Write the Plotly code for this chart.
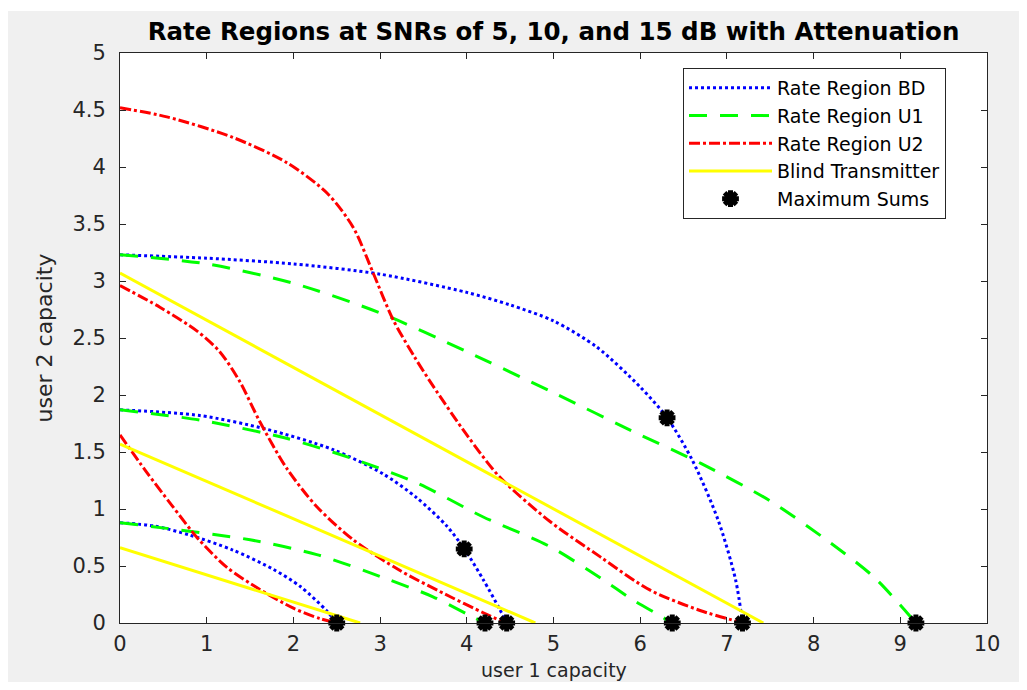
import plotly.graph_objects as go

# ---------------- data ----------------
# SNR = 5 dB
bd5_x = [0, 0.4, 0.81, 1.3, 1.77, 2.08, 2.38, 2.5]
bd5_y = [0.88, 0.85, 0.77, 0.64, 0.47, 0.32, 0.11, 0]
u1_5_x = [0, 0.54, 1.5, 2.27, 3.03, 3.61, 4.0, 4.21]
u1_5_y = [0.88, 0.83, 0.73, 0.60, 0.40, 0.23, 0.08, 0]
u2_5_x = [0, 0.3, 0.6, 0.9, 1.23, 1.6, 2.0, 2.3, 2.5]
u2_5_y = [1.65, 1.33, 1.03, 0.74, 0.49, 0.30, 0.13, 0.04, 0]
blind5_x = [0, 2.77]
blind5_y = [0.66, 0]

# SNR = 10 dB
bd10_x = [0, 0.92, 1.69, 2.46, 3.03, 3.42, 3.77, 3.98, 4.19, 4.38, 4.46]
bd10_y = [1.87, 1.82, 1.70, 1.52, 1.31, 1.10, 0.85, 0.64, 0.38, 0.12, 0]
u1_10_x = [0, 0.92, 1.92, 2.65, 3.42, 4.19, 4.96, 5.57, 5.92, 6.26, 6.36]
u1_10_y = [1.87, 1.78, 1.62, 1.45, 1.23, 0.93, 0.67, 0.38, 0.2, 0.05, 0]
u2_10_x = [0, 0.46, 0.89, 1.15, 1.38, 1.61, 1.92, 2.27, 2.69, 3.23, 3.81, 4.19, 4.45]
u2_10_y = [2.96, 2.77, 2.56, 2.38, 2.12, 1.77, 1.36, 1.02, 0.73, 0.46, 0.23, 0.09, 0]
blind10_x = [0, 4.79]
blind10_y = [1.57, 0]

# SNR = 15 dB
bd15_x = [0, 1, 2, 3, 4, 4.5, 5, 5.5, 6, 6.31, 6.6, 6.9, 7.1, 7.18]
bd15_y = [3.23, 3.2, 3.15, 3.06, 2.9, 2.79, 2.65, 2.42, 2.07, 1.80, 1.43, 0.9, 0.38, 0]
u1_15_x = [0, 1, 2, 3, 4, 5, 6, 6.7, 7.5, 8.2, 8.7, 9.18]
u1_15_y = [3.23, 3.15, 2.98, 2.72, 2.38, 2.02, 1.65, 1.40, 1.07, 0.70, 0.40, 0]
u2_15_x = [0, 0.54, 1.3, 1.92, 2.39, 2.69, 2.92, 3.15, 3.4, 3.61, 4.0, 4.38, 4.96, 5.54, 6.11, 6.69, 7.19]
u2_15_y = [4.52, 4.44, 4.26, 4.04, 3.77, 3.47, 3.07, 2.66, 2.33, 2.08, 1.65, 1.28, 0.89, 0.58, 0.29, 0.11, 0]
blind15_x = [0, 7.42]
blind15_y = [3.07, 0]

# maximum sum-rate points
max_x = [6.31, 9.18, 7.18, 3.97, 6.37, 4.46, 4.21, 2.5]
max_y = [1.80, 0, 0, 0.65, 0, 0, 0, 0]

x_ticks = [0, 1, 2, 3, 4, 5, 6, 7, 8, 9, 10]
y_ticks = [0, 0.5, 1, 1.5, 2, 2.5, 3, 3.5, 4, 4.5, 5]

title_text = "Rate Regions at SNRs of 5, 10, and 15 dB with Attenuation"
x_label = "user 1 capacity"
y_label = "user 2 capacity"
legend_names = ["Rate Region BD", "Rate Region U1", "Rate Region U2",
                "Blind Transmitter", "Maximum Sums"]

# ---------------- figure ----------------
FONT = "DejaVu Sans"
W, H = 1019, 674            # the page adds an 8px body margin around the figure
L, T, R, B = 112, 45, 40, 59
PW, PH = W - L - R, H - T - B

fig = go.Figure()

groups = [
    (legend_names[0], "bd", dict(color="#0000ff", width=3, dash="dot"),
     [(bd5_x, bd5_y), (bd10_x, bd10_y), (bd15_x, bd15_y)]),
    (legend_names[1], "u1", dict(color="#00ff00", width=3, dash="18px,13px"),
     [(u1_5_x, u1_5_y), (u1_10_x, u1_10_y), (u1_15_x, u1_15_y)]),
    (legend_names[2], "u2", dict(color="#ff0000", width=3, dash="11px,3px,3px,3px"),
     [(u2_5_x, u2_5_y), (u2_10_x, u2_10_y), (u2_15_x, u2_15_y)]),
    (legend_names[3], "blind", dict(color="#ffff00", width=3),
     [(blind5_x, blind5_y), (blind10_x, blind10_y), (blind15_x, blind15_y)]),
]

for name, grp, line, series in groups:
    for i, (xs, ys) in enumerate(series):
        fig.add_trace(go.Scatter(
            x=xs, y=ys, mode="lines", name=name, legendgroup=grp,
            showlegend=(i == 0), line=dict(shape="spline", smoothing=0.8, **line),
        ))

fig.add_trace(go.Scatter(
    x=max_x, y=max_y, mode="markers", name=legend_names[4],
    marker=dict(symbol="asterisk", size=14, color="black",
                line=dict(color="black", width=5)),
    cliponaxis=False,
))

axis_common = dict(
    ticks="inside", ticklen=6, tickcolor="#262626", tickwidth=1,
    showline=True, linecolor="#262626", linewidth=1, mirror="ticks",
    showgrid=False, zeroline=False, automargin=True,
    tickfont=dict(family=FONT, size=21, color="#262626"),
)

fig.update_layout(
    width=W, height=H,
    margin=dict(l=L, r=R, t=T, b=B, pad=0, autoexpand=False),
    paper_bgcolor="#f0f0f0", plot_bgcolor="white",
    title=dict(text=title_text, x=0.5, xref="paper", xanchor="center",
               y=1 - 23 / H, yref="container", yanchor="middle", automargin=False,
               font=dict(family=FONT, size=24.5, color="black", weight="bold")),
    xaxis=dict(range=[0, 10], tickvals=x_ticks, ticklabelstandoff=2, **axis_common),
    yaxis=dict(range=[0, 5], tickvals=y_ticks, ticktext=[f"{v:g}" for v in y_ticks],
               ticklabelstandoff=9,
               title=dict(text=y_label, standoff=13,
                          font=dict(family=FONT, size=22, color="#262626")),
               **axis_common),
    legend=dict(x=(675 - L) / PW, y=1 - (60 - T) / PH, xanchor="left", yanchor="top",
                bgcolor="white", bordercolor="#262626", borderwidth=1,
                itemwidth=83, tracegroupgap=0,
                font=dict(family=FONT, size=19, color="black")),
    annotations=[
        # x-axis label, placed just below the tick labels and inside the page
        dict(text=x_label, xref="paper", yref="paper", x=0.5, y=1 - (650 - T) / PH,
             xanchor="center", yanchor="top", showarrow=False, borderpad=0,
             font=dict(family=FONT, size=19, color="#262626")),
    ],
    shapes=[
        # a slightly wider white strip at the top edge, as in the reference
        dict(type="rect", xref="paper", yref="paper", x0=-0.3, x1=1.3,
             y0=1 + (T - 3) / PH, y1=1.3, fillcolor="white", line=dict(width=0),
             layer="below"),
    ],
)

fig.write_html("out.html")
